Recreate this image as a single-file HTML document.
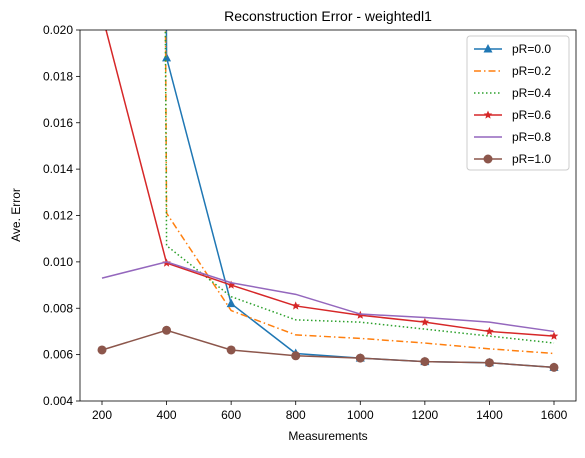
<!DOCTYPE html>
<html><head><meta charset="utf-8"><style>
body{margin:0;background:#fff;}
svg text{font-family:"Liberation Sans","DejaVu Sans",sans-serif;}
</style></head><body>
<svg id="chart" width="585" height="453">
<defs><clipPath id="clip"><rect x="80" y="30" width="496" height="371"/></clipPath></defs>
<text x="328" y="21" font-size="14" text-anchor="middle">Reconstruction Error - weightedl1</text>
<g id="axes"></g>
<g id="series" clip-path="url(#clip)"></g>
<rect x="80" y="30" width="496" height="371" fill="none" stroke="#000" stroke-width="0.8"/>
<text x="328" y="440" font-size="12" text-anchor="middle">Measurements</text>
<text transform="translate(20,215) rotate(-90)" font-size="12" text-anchor="middle">Ave. Error</text>
<g id="legend"></g>
</svg>
<script>
const categories=[200,400,600,800,1000,1200,1400,1600];
const xTicks=[200,400,600,800,1000,1200,1400,1600];
const yTicks=[0.004,0.006,0.008,0.010,0.012,0.014,0.016,0.018,0.020];
const labels=["pR=0.0","pR=0.2","pR=0.4","pR=0.6","pR=0.8","pR=1.0"];
const s0=[0.5,0.0188,0.0082,0.00605,0.00585,0.0057,0.00565,0.00545];
const s2=[0.5,0.0121,0.0079,0.00685,0.0067,0.0065,0.00625,0.00605];
const s4=[0.5,0.0107,0.0085,0.0075,0.0074,0.0071,0.0068,0.0065];
const s6=[0.02067,0.00995,0.0090,0.0081,0.0077,0.0074,0.0070,0.0068];
const s8=[0.0093,0.0100,0.0091,0.0086,0.00775,0.0076,0.0074,0.0070];
const s10=[0.0062,0.00705,0.0062,0.00595,0.00585,0.0057,0.00565,0.00545];
const seriesData=[s0,s2,s4,s6,s8,s10];
const colors=["#1f77b4","#ff7f0e","#2ca02c","#d62728","#9467bd","#8c564b"];
const dashes=["","7,3,1.5,3","1.5,2.5","","",""];
const markers=["tri","","","star","","circle"];
const NS="http://www.w3.org/2000/svg";
function X(v){return 102+(v-200)*(452/1400);}
function Y(v){return 401-(v-0.004)*(371/0.016);}
function mk(t,a,p){const e=document.createElementNS(NS,t);for(const k in a)e.setAttribute(k,a[k]);p.appendChild(e);return e;}
const ax=document.getElementById('axes');
xTicks.forEach(t=>{
 const l=mk('line',{x1:X(t),x2:X(t),y1:401,y2:405,stroke:'#000','stroke-width':0.8},ax);
 
 
 const tx=mk('text',{x:X(t),y:419,'font-size':12,'text-anchor':'middle'},ax);tx.textContent=t;
 
 
});
yTicks.forEach(t=>{
 const l=mk('line',{x1:76,x2:80,y1:Y(t),y2:Y(t),stroke:'#000','stroke-width':0.8},ax);
 
 
 const tx=mk('text',{x:73,y:Y(t)+4,'font-size':12,'text-anchor':'end'},ax);tx.textContent=t.toFixed(3);
 
 
});
function marker(type,x,y,c,g){
 if(type==='tri')return mk('polygon',{points:`${x},${y-5} ${x-4.5},${y+3.5} ${x+4.5},${y+3.5}`,fill:c},g);
 if(type==='circle')return mk('circle',{cx:x,cy:y,r:4.5,fill:c},g);
 if(type==='star'){let p=[];for(let i=0;i<10;i++){const r=i%2?2:4.5,a=-Math.PI/2+i*Math.PI/5;p.push((x+r*Math.cos(a)).toFixed(1)+','+(y+r*Math.sin(a)).toFixed(1));}return mk('polygon',{points:p.join(' '),fill:c},g);}
 return null;
}
const sg=document.getElementById('series');
seriesData.forEach((d,i)=>{
 const g=mk('g',{},sg);
 
 
 const pts=d.map((v,j)=>X(categories[j])+','+Y(v)).join(' ');
 const pl=mk('polyline',{points:pts,fill:'none',stroke:colors[i],'stroke-width':1.5},g);
 if(dashes[i])pl.setAttribute('stroke-dasharray',dashes[i]);
 
 
 d.forEach((v,j)=>{const m=marker(markers[i],X(categories[j]),Y(v),colors[i],g);
  if(m){
  }});
});
const lg=document.getElementById('legend');
const box=mk('rect',{x:467,y:36,width:102,height:134,rx:3,fill:'#fff',stroke:'#ccc'},lg);


labels.forEach((lab,i)=>{
 const y=49+i*22;
 const g=mk('g',{},lg);
 
 
 const l=mk('line',{x1:474,x2:502,y1:y,y2:y,stroke:colors[i],'stroke-width':1.5},g);
 if(dashes[i])l.setAttribute('stroke-dasharray',dashes[i]);
 marker(markers[i],488,y,colors[i],g);
 const t=mk('text',{x:512,y:y+4,'font-size':12},g);t.textContent=lab;
});
</script>
</body></html>
